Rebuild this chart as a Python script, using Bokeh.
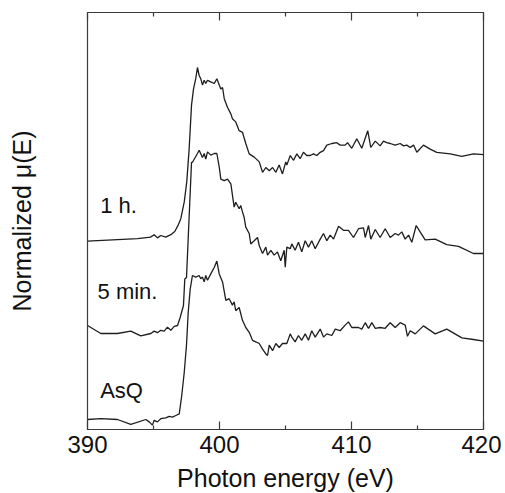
from bokeh.plotting import figure
from bokeh.models import Range1d, LinearAxis, FixedTicker, ColumnDataSource
from bokeh.embed import file_html
from bokeh.resources import INLINE
from bokeh.core.properties import value

# ---- data: photon energy (eV) and normalized mu(E) for each sample ----
e_1h = [390.00, 393.79, 394.77, 395.05, 395.30, 395.55, 395.93, 396.31, 396.61, 396.87,
        397.07, 397.33, 397.52, 397.70, 397.88, 398.03, 398.20, 398.33, 398.46, 398.58,
        398.71, 398.84, 398.96, 399.09, 399.34, 399.60, 399.80, 399.98, 400.10, 400.23,
        400.36, 400.61, 400.86, 400.98, 401.23, 401.49, 401.74, 401.99, 402.25, 402.63,
        403.01, 403.26, 403.51, 403.77, 404.02, 404.27, 404.52, 404.77, 405.02, 405.10,
        405.36, 405.61, 405.86, 406.11, 406.36, 406.61, 406.87, 407.12, 407.37, 407.63,
        407.88, 408.13, 408.51, 408.89, 409.14, 409.52, 409.70, 410.02, 410.40, 410.78,
        411.23, 411.46, 411.80, 412.17, 412.42, 412.67, 412.93, 413.31, 413.69, 413.94,
        414.19, 414.45, 414.70, 414.95, 415.45, 415.96, 416.46, 417.48, 418.36, 419.24,
        420.00]
mu_1h = [-0.02, 0.01, 0.03, 0.06, 0.02, 0.05, 0.03, 0.06, 0.10, 0.18,
         0.26, 0.47, 0.72, 1.13, 1.68, 1.88, 2.01, 2.15, 2.05, 2.01,
         1.93, 1.99, 1.95, 1.99, 1.97, 1.95, 2.01, 1.93, 1.88, 1.90,
         1.76, 1.65, 1.57, 1.51, 1.47, 1.36, 1.34, 1.20, 1.07, 1.03,
         0.97, 0.84, 0.90, 0.86, 0.90, 0.84, 0.93, 0.82, 0.97, 0.93,
         1.05, 0.99, 1.07, 1.01, 1.09, 1.05, 1.05, 1.07, 1.05, 1.09,
         1.11, 1.18, 1.20, 1.21, 1.18, 1.18, 1.21, 1.14, 1.26, 1.14,
         1.36, 1.15, 1.23, 1.17, 1.23, 1.21, 1.20, 1.18, 1.20, 1.17,
         1.18, 1.15, 1.18, 1.09, 1.18, 1.13, 1.09, 1.07, 1.04, 1.07,
         1.06]

e_5m = [390.00, 391.01, 392.27, 393.28, 394.04, 394.80, 395.05, 395.30, 395.55, 395.81,
        396.06, 396.31, 396.57, 396.82, 397.02, 397.27, 397.37, 397.50, 397.88, 397.95,
        398.33, 398.46, 398.71, 398.84, 398.96, 399.09, 399.34, 399.60, 399.80, 399.98,
        400.10, 400.36, 400.61, 400.86, 401.11, 401.23, 401.49, 401.61, 401.74, 401.87,
        401.99, 402.25, 402.37, 402.63, 402.88, 403.01, 403.26, 403.51, 403.64, 403.89,
        404.14, 404.39, 404.64, 404.90, 404.98, 405.10, 405.36, 405.48, 405.73, 405.98,
        406.23, 406.49, 406.74, 406.99, 407.25, 407.63, 407.88, 408.13, 408.39, 408.64,
        409.02, 409.39, 409.77, 410.15, 410.53, 410.91, 411.04, 411.29, 411.46, 411.80,
        412.17, 412.55, 412.93, 413.31, 413.56, 413.81, 414.07, 414.32, 414.57, 414.90,
        415.20, 415.58, 416.34, 417.22, 418.11, 419.24, 420.00]
mu_5m = [0.10, 0.00, 0.00, 0.03, -0.03, 0.00, 0.03, 0.01, 0.04, 0.03,
         0.08, 0.04, 0.09, 0.10, 0.20, 0.35, 0.68, 0.70, 2.14, 2.14,
         2.25, 2.29, 2.20, 2.25, 2.18, 2.27, 2.23, 2.25, 2.25, 2.08,
         1.93, 1.91, 1.93, 1.87, 1.58, 1.64, 1.56, 1.60, 1.52, 1.45,
         1.33, 1.25, 1.12, 1.16, 1.20, 1.10, 1.00, 1.08, 0.98, 1.04,
         0.98, 1.02, 0.91, 1.04, 0.83, 1.08, 1.06, 1.12, 1.04, 1.14,
         1.02, 1.16, 1.08, 1.16, 1.06, 1.18, 1.25, 1.16, 1.23, 1.18,
         1.34, 1.29, 1.29, 1.20, 1.31, 1.32, 1.20, 1.35, 1.18, 1.30,
         1.20, 1.31, 1.20, 1.25, 1.23, 1.27, 1.18, 1.23, 1.14, 1.35,
         1.27, 1.17, 1.18, 1.11, 1.09, 1.00, 1.00]

e_asq = [390.00, 391.01, 392.27, 393.28, 394.42, 394.67, 394.92, 395.05, 395.30, 395.55,
         395.93, 396.19, 396.44, 396.69, 396.95, 397.14, 397.33, 397.50, 397.63, 397.78,
         397.95, 398.20, 398.46, 398.58, 398.71, 398.84, 398.96, 399.09, 399.34, 399.60,
         399.80, 399.98, 400.23, 400.48, 400.73, 400.98, 401.11, 401.23, 401.49, 401.74,
         401.99, 402.25, 402.50, 402.75, 403.01, 403.26, 403.51, 403.64, 403.77, 404.02,
         404.27, 404.52, 404.77, 405.10, 405.36, 405.48, 405.73, 405.98, 406.23, 406.49,
         406.74, 406.99, 407.25, 407.63, 407.88, 408.13, 408.51, 408.77, 409.14, 409.52,
         409.77, 410.02, 410.53, 410.78, 411.04, 411.29, 411.54, 411.80, 412.17, 412.55,
         412.93, 413.31, 413.69, 414.07, 414.24, 414.45, 414.83, 415.45, 416.34, 417.22,
         418.36, 419.24, 420.00]
mu_asq = [0.00, 0.01, 0.00, -0.06, 0.00, -0.03, -0.07, -0.01, -0.03, 0.01,
          0.02, 0.04, 0.03, 0.05, 0.07, 0.30, 0.59, 0.93, 1.34, 1.63,
          1.80, 1.78, 1.80, 1.76, 1.78, 1.72, 1.80, 1.74, 1.82, 1.90,
          1.98, 1.82, 1.72, 1.49, 1.51, 1.43, 1.47, 1.36, 1.40, 1.24,
          1.15, 1.09, 0.99, 0.97, 0.95, 0.88, 0.82, 0.80, 0.93, 0.86,
          0.95, 0.90, 0.95, 0.95, 1.07, 1.03, 0.97, 1.05, 0.99, 1.07,
          0.99, 1.11, 1.03, 1.13, 1.03, 1.07, 1.05, 1.13, 1.11, 1.18,
          1.22, 1.15, 1.15, 1.13, 1.21, 1.14, 1.21, 1.14, 1.15, 1.14,
          1.21, 1.15, 1.21, 1.18, 1.04, 1.11, 1.07, 1.17, 1.07, 1.13,
          1.02, 1.00, 0.98]

series_names = ["1 h.", "5 min.", "AsQ"]
series_offsets = [2.375, 1.2, 0.125]      # vertical stacking offsets
label_x = [390.96, 390.76, 390.96]       # label anchor (eV)
label_y = [2.80, 1.73, 0.49]             # label baseline (stacked units)

x_ticks = [390, 400, 410, 420]
x_minor = [395, 405, 415]

FONT = "Liberation Sans"
INK = "#1e1e1e"
FRAME = "#3a3a3a"

p = figure(frame_width=396, frame_height=417, output_backend="svg", toolbar_location=None,
           x_range=Range1d(390, 420), y_range=Range1d(0, 5.2125),
           min_border_left=87, min_border_right=18, min_border_top=12, min_border_bottom=40)
p.grid.visible = False
p.outline_line_color = FRAME
p.outline_line_width = 1.2
p.background_fill_color = "white"
p.border_fill_color = "white"

energies = [e_1h, e_5m, e_asq]
mus = [mu_1h, mu_5m, mu_asq]
for e, m, off in zip(energies, mus, series_offsets):
    src = ColumnDataSource(dict(x=e, y=[v + off for v in m]))
    p.line("x", "y", source=src, line_color=INK, line_width=1.3)

p.text(x=label_x, y=label_y, text=series_names, text_font=value(FONT),
       text_font_size="22px", text_color="#111111", text_baseline="alphabetic",
       text_align="left")

# bottom axis
xa = p.xaxis[0]
xa.ticker = FixedTicker(ticks=x_ticks, minor_ticks=x_minor)
xa.axis_label = "Photon energy (eV)"
xa.axis_label_text_font = FONT
xa.axis_label_text_font_size = "25px"
xa.axis_label_text_font_style = "normal"
xa.axis_label_text_color = "#111111"
xa.axis_label_standoff = 8
xa.major_label_text_font = FONT
xa.major_label_text_font_size = "24px"
xa.major_label_text_color = "#111111"
xa.major_label_standoff = 6
xa.major_tick_in = 8
xa.major_tick_out = 0
xa.minor_tick_in = 4
xa.minor_tick_out = 0
xa.axis_line_color = FRAME
xa.major_tick_line_color = FRAME
xa.minor_tick_line_color = FRAME
xa.major_tick_line_width = 1.2
xa.minor_tick_line_width = 1.2

# top mirror axis (ticks only, no labels)
top = LinearAxis(ticker=FixedTicker(ticks=x_ticks, minor_ticks=x_minor),
                 major_label_text_color=None, major_label_text_font_size="1px",
                 major_label_standoff=0,
                 major_tick_in=8, major_tick_out=0, minor_tick_in=4, minor_tick_out=0,
                 axis_line_color=FRAME, major_tick_line_color=FRAME,
                 minor_tick_line_color=FRAME, major_tick_line_width=1.2,
                 minor_tick_line_width=1.2)
p.add_layout(top, "above")

# left axis: label only
ya = p.yaxis[0]
ya.ticker = FixedTicker(ticks=[])
ya.axis_label = "Normalized μ(E)"
ya.axis_label_text_font = FONT
ya.axis_label_text_font_size = "25px"
ya.axis_label_text_font_style = "normal"
ya.axis_label_text_color = "#111111"
ya.major_label_text_color = None
ya.major_tick_line_color = None
ya.minor_tick_line_color = None
ya.axis_line_color = FRAME
ya.axis_label_standoff = 52

open("out.html", "w").write(file_html(p, INLINE))
